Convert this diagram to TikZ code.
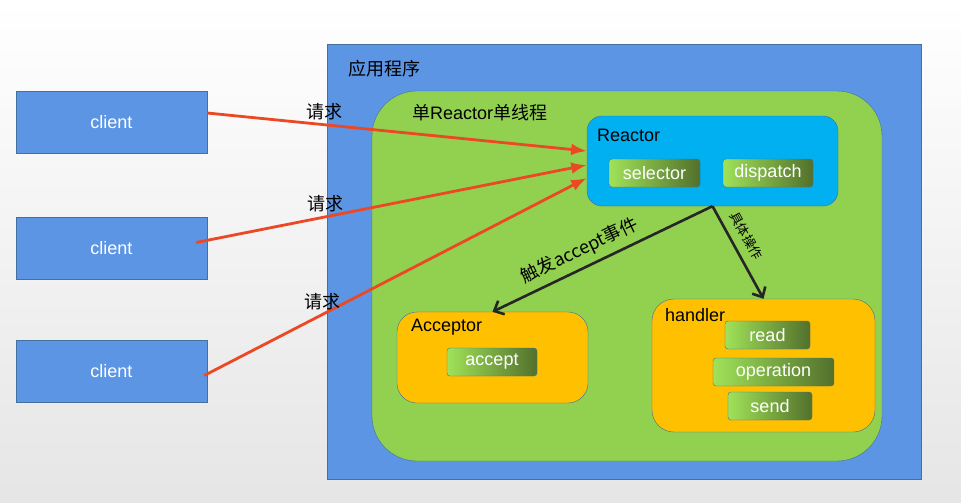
\documentclass[tikz,border=0pt]{standalone}
\usepackage{fontspec}
\setmainfont{Liberation Sans}
\newfontfamily\cjk{Noto Sans CJK SC}
\usetikzlibrary{arrows.meta,positioning}
\definecolor{appblue}{RGB}{91,149,228}
\definecolor{edgeblue}{RGB}{65,113,156}
\definecolor{rgreen}{RGB}{146,208,80}
\definecolor{rcyan}{RGB}{0,176,240}
\definecolor{rorange}{RGB}{255,192,0}
\definecolor{oplight}{RGB}{160,226,88}
\definecolor{opdark}{RGB}{82,112,44}
\definecolor{reqred}{RGB}{236,72,36}
\definecolor{arrgray}{RGB}{38,38,38}

\begin{document}
\begin{tikzpicture}[x=1pt,y=-1pt,>=Latex,font=\fontsize{18}{21}\selectfont,
    client/.style={draw=edgeblue,fill=appblue,text=white,minimum width=191pt,minimum height=62pt,inner sep=0pt},
    zone/.style={draw=edgeblue,rounded corners=#1,inner sep=0pt},
    op/.style={draw=edgeblue,rounded corners=3pt,left color=oplight,right color=opdark,text=white,minimum height=28pt,inner sep=0pt},
    title/.style={anchor=west,inner sep=0pt},
    req/.style={->,draw=reqred,line width=2.8pt},
    call/.style={-{Straight Barb[length=8pt,width=15pt]},draw=arrgray,line width=2.6pt}]
  % background
  \fill[top color=white,bottom color=black!10] (0,0) rectangle (961,503);
  \useasboundingbox (0,0) rectangle (961,503);

  % clients
  \node[client] (c1) at (111.5,122) {client};
  \node[client] (c2) at (111.5,248.5) {client};
  \node[client] (c3) at (111.5,371.5) {client};

  % application
  \node[draw=edgeblue,fill=appblue,minimum width=594pt,minimum height=435pt,inner sep=0pt] (app) at (624,261.5) {};
  \node[title] (applbl) at (348,69) {\cjk 应用程序};
  \node[zone=45pt,fill=rgreen,minimum width=510pt,minimum height=370pt] (thr) at (627,276) {};
  \node[title] (thrlbl) at (412,113) {{\cjk 单}Reactor{\cjk 单线程}};

  % reactor
  \node[zone=15pt,fill=rcyan,minimum width=251pt,minimum height=90pt] (rea) at (712.5,161) {};
  \node[title] (realbl) at (597,135) {Reactor};
  \node[op,minimum width=91pt] (sel) at (654.5,173) {selector};
  \node[op,minimum width=90pt] (dis) at (768,173) {dispatch};

  % acceptor
  \node[zone=20pt,fill=rorange,minimum width=191pt,minimum height=91pt] (acc) at (492.5,357.5) {};
  \node[title] (acclbl) at (411,327) {Acceptor};
  \node[op,minimum width=90pt] (acp) at (492,362) {accept};

  % handler
  \node[zone=22pt,fill=rorange,minimum width=223pt,minimum height=133pt] (hdl) at (763.5,365.5) {};
  \node[title] (hdllbl) at (665,315) {handler};
  \node[op,minimum width=85pt] (rd) at (767.5,335) {read};
  \node[op,minimum width=121pt] (opr) at (773.5,372) {operation};
  \node[op,minimum width=84pt] (snd) at (770,406) {send};

  % requests
  \draw[req] ([yshift=9pt]c1.east) -- node[pos=0.31,above,text=black]{\cjk 请求} ([yshift=10pt]rea.west);
  \draw[req] ([xshift=-11pt,yshift=6pt]c2.east) -- node[pos=0.33,above,text=black]{\cjk 请求} ([yshift=-4pt]rea.west);
  \draw[req] ([xshift=-3pt,yshift=-4pt]c3.east) -- node[pos=0.31,above,text=black]{\cjk 请求} ([yshift=-17pt]rea.west);

  % dispatching
  \draw[call] (rea.south) -- node[pos=0.57,sloped,above=3pt]{\cjk 触发accept事件} (acc.north);
  \draw[call] (rea.south) -- node[pos=0.4,sloped,above=5pt,font=\fontsize{13}{15}\selectfont]{\cjk 具体操作} (hdl.north);
\end{tikzpicture}
\end{document}
